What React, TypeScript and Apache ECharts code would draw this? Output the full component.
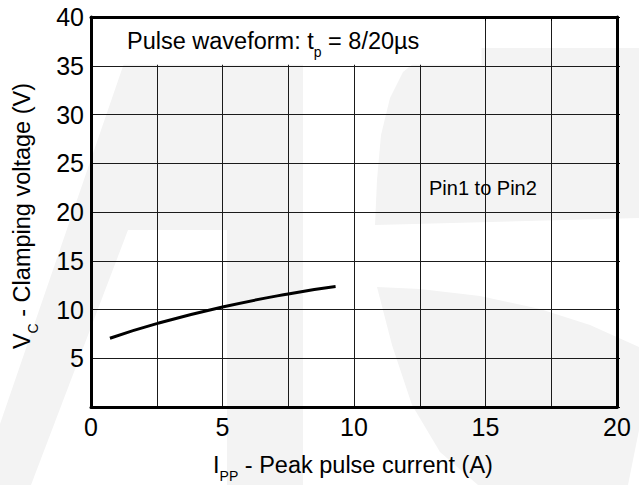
import React, { useEffect, useRef } from "react";
import * as echarts from "echarts";

// Data
const currentA = [0.72, 2.5, 5, 7.5, 9.3];
const clampV = [7.05, 8.55, 10.25, 11.6, 12.35];
const xTickLabels = ["0", "5", "10", "15", "20"];
const yTickLabels = ["5", "10", "15", "20", "25", "30", "35", "40"];

const W = 639;
const H = 485;
const GL = 91;
const GR = 22;
const GT = 17;
const GB = 78;
const FONT = "'Liberation Sans', Arial, Helvetica, sans-serif";
const WM = "#f3f3f3";

export default function App() {
  const ref = useRef<HTMLDivElement>(null);
  useEffect(() => {
    if (!ref.current) return;
    const chart = echarts.init(ref.current, null, { renderer: "svg" });
    const data = currentA.map((x, i) => [x, clampV[i]]);
    const plotW = W - GL - GR;
    const plotH = H - GT - GB;
    const xPx = (v: number) => GL + (v / 20) * plotW;
    const yPx = (v: number) => GT + ((40 - v) / 40) * plotH;
    const rich = {
      n: { fontSize: 23.5, fontFamily: FONT, fill: "#000", lineHeight: 36, verticalAlign: "middle" },
      s: { fontSize: 14, fontFamily: FONT, fill: "#000", lineHeight: 16, verticalAlign: "bottom" },
    };

    chart.setOption({
      animation: false,
      backgroundColor: "#ffffff",
      grid: { left: GL, right: GR, top: GT, bottom: GB },
      xAxis: [
        {
          type: "value",
          min: 0,
          max: 20,
          interval: 2.5,
          position: "bottom",
          axisLine: { show: true, onZero: false, lineStyle: { color: "#000", width: 3 } },
          axisTick: { show: false },
          axisLabel: {
            color: "#000",
            fontSize: 25,
            fontFamily: FONT,
            margin: 7,
            formatter: (v: number) => (xTickLabels.includes(String(v)) ? String(v) : ""),
          },
          splitLine: { show: true, lineStyle: { color: "#1a1a1a", width: 1 } },
        },
        {
          type: "value",
          min: 0,
          max: 20,
          interval: 2.5,
          position: "top",
          axisLine: { show: true, onZero: false, lineStyle: { color: "#000", width: 3 } },
          axisTick: { show: true, inside: true, length: 4, lineStyle: { color: "#000", width: 1 } },
          axisLabel: { show: false },
          splitLine: { show: false },
        },
      ],
      yAxis: [
        {
          type: "value",
          min: 0,
          max: 40,
          interval: 5,
          position: "left",
          axisLine: { show: true, onZero: false, lineStyle: { color: "#000", width: 3 } },
          axisTick: { show: false },
          axisLabel: {
            color: "#000",
            fontSize: 25,
            fontFamily: FONT,
            margin: 7,
            formatter: (v: number) => (yTickLabels.includes(String(v)) ? String(v) : ""),
          },
          splitLine: { show: true, lineStyle: { color: "#1a1a1a", width: 1 } },
        },
        {
          type: "value",
          min: 0,
          max: 40,
          interval: 5,
          position: "right",
          axisLine: { show: true, onZero: false, lineStyle: { color: "#000", width: 3 } },
          axisTick: { show: true, inside: false, length: 3, lineStyle: { color: "#000", width: 1 } },
          axisLabel: { show: false },
          splitLine: { show: false },
        },
      ],
      series: [
        {
          type: "line",
          data,
          smooth: true,
          symbol: "none",
          z: 3,
          lineStyle: { color: "#000", width: 3 },
        },
      ],
      graphic: [
        // faint background watermark ("A")
        {
          type: "polygon",
          z: -10,
          silent: true,
          shape: {
            points: [
              [132, 40], [303, 40], [303, 485], [227, 485], [227, 230],
              [128, 230], [31, 485], [-21, 485],
            ],
          },
          style: { fill: WM },
        },
        // watermark upper "S" lobe
        {
          type: "polygon",
          z: -10,
          silent: true,
          shape: {
            points: [
              [639, 48], [455, 48], [425, 54], [403, 72], [390, 98], [381, 135],
              [377, 180], [375, 225], [639, 218],
            ],
          },
          style: { fill: WM },
        },
        // watermark lower "S" lobe
        {
          type: "polygon",
          z: -10,
          silent: true,
          shape: {
            points: [
              [377, 287], [420, 289], [480, 296], [540, 309], [590, 325], [639, 347],
              [639, 430], [628, 485], [478, 485], [440, 452], [412, 405], [392, 345],
            ],
          },
          style: { fill: WM },
        },
        // white label box in the top row
        {
          type: "rect",
          z: 1,
          silent: true,
          shape: { x: GL + 2, y: GT + 2, width: xPx(14.85) - GL - 2, height: yPx(35) - GT - 3 },
          style: { fill: "#ffffff" },
        },
        {
          type: "text",
          z: 10,
          x: 127,
          y: 41,
          style: {
            text: "{n|Pulse waveform: t}{s|p}{n| = 8/20µs}",
            align: "left",
            verticalAlign: "middle",
            rich,
          },
        },
        {
          type: "text",
          z: 10,
          x: 429,
          y: 188,
          style: {
            text: "Pin1 to Pin2",
            font: `20px ${FONT}`,
            fill: "#000",
            align: "left",
            verticalAlign: "middle",
          },
        },
        {
          type: "text",
          z: 10,
          x: 353,
          y: 465,
          style: {
            text: "{n|I}{s|PP}{n| - Peak pulse current (A)}",
            align: "center",
            verticalAlign: "middle",
            rich,
          },
        },
        {
          type: "text",
          z: 10,
          x: 22,
          y: 216,
          rotation: Math.PI / 2,
          style: {
            text: "{n|V}{s|C}{n| - Clamping voltage (V)}",
            align: "center",
            verticalAlign: "middle",
            rich,
          },
        },
      ],
    });
    return () => chart.dispose();
  }, []);
  return (
    <div
      ref={ref}
      style={{ position: "fixed", left: 0, top: 0, width: W, height: H, background: "#fff" }}
    />
  );
}
